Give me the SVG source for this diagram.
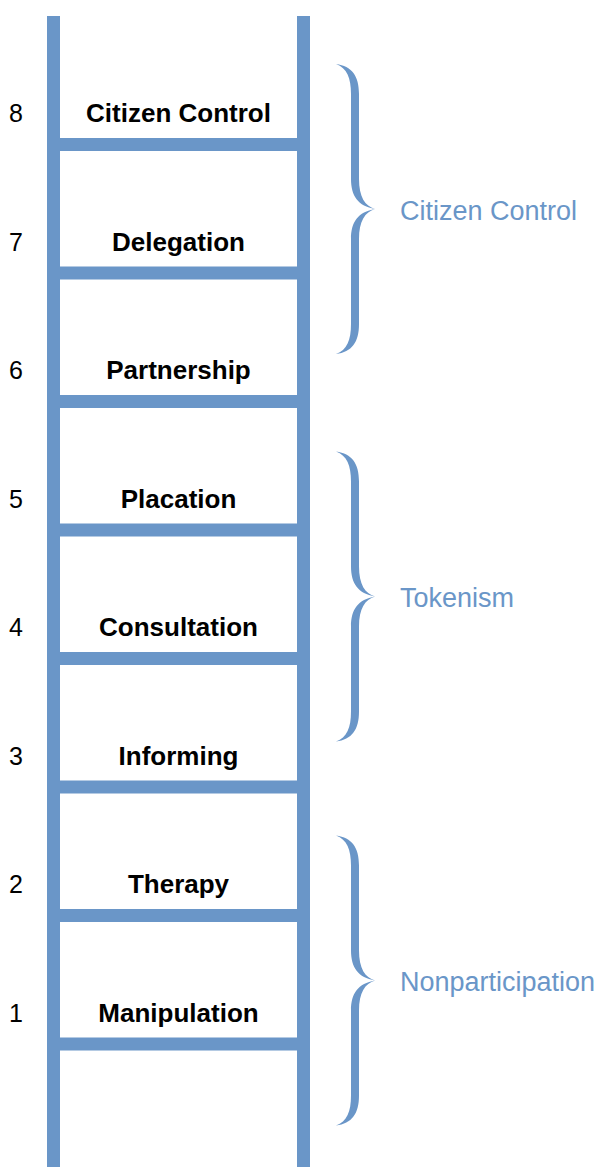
<svg xmlns="http://www.w3.org/2000/svg" width="601" height="1167" viewBox="0 0 601 1167">
<style>
.bar{fill:#6a96c8}
.lbl{font-family:"Liberation Sans",Arial,sans-serif;font-weight:bold;font-size:26px;fill:#000;text-anchor:middle}
.num{font-family:"Liberation Sans",Arial,sans-serif;font-size:25px;fill:#000;text-anchor:middle}
.grp{font-family:"Liberation Sans",Arial,sans-serif;font-size:27px;fill:#6a96c8}
.brace{fill:#6a96c8}
</style>
<defs>
<path id="br" d="M0,0 C16,2 23,12 23,30 L23,115 C23,133 29,142 39,145 C29,148 23,157 23,175 L23,260 C23,278 16,288 0,290 C11,286 15,276 15,260 L15,175 C15,158 22,148 39,145 C22,142 15,132 15,115 L15,30 C15,14 11,4 0,0 Z"/>
</defs>
<rect width="601" height="1167" fill="#fff"/>
<g id="rails">
<rect class="bar" x="47" y="16" width="13" height="1151"/>
<rect class="bar" x="297" y="16" width="13" height="1151"/>
</g>
<g id="rung8"><rect class="bar" x="47" y="138" width="263" height="13"/><text class="num" x="16" y="122">8</text><text class="lbl" x="178.5" y="122">Citizen Control</text></g>
<g id="rung7"><rect class="bar" x="47" y="266.5" width="263" height="13"/><text class="num" x="16" y="250.5">7</text><text class="lbl" x="178.5" y="250.5">Delegation</text></g>
<g id="rung6"><rect class="bar" x="47" y="395" width="263" height="13"/><text class="num" x="16" y="379">6</text><text class="lbl" x="178.5" y="379">Partnership</text></g>
<g id="rung5"><rect class="bar" x="47" y="523.5" width="263" height="13"/><text class="num" x="16" y="507.5">5</text><text class="lbl" x="178.5" y="507.5">Placation</text></g>
<g id="rung4"><rect class="bar" x="47" y="652" width="263" height="13"/><text class="num" x="16" y="636">4</text><text class="lbl" x="178.5" y="636">Consultation</text></g>
<g id="rung3"><rect class="bar" x="47" y="780.5" width="263" height="13"/><text class="num" x="16" y="764.5">3</text><text class="lbl" x="178.5" y="764.5">Informing</text></g>
<g id="rung2"><rect class="bar" x="47" y="909" width="263" height="13"/><text class="num" x="16" y="893">2</text><text class="lbl" x="178.5" y="893">Therapy</text></g>
<g id="rung1"><rect class="bar" x="47" y="1037.5" width="263" height="13"/><text class="num" x="16" y="1021.5">1</text><text class="lbl" x="178.5" y="1021.5">Manipulation</text></g>
<g id="group-citizen-control"><use href="#br" class="brace" x="336" y="64"/><text class="grp" x="400" y="220">Citizen Control</text></g>
<g id="group-tokenism"><use href="#br" class="brace" x="336" y="451.5"/><text class="grp" x="400" y="607">Tokenism</text></g>
<g id="group-nonparticipation"><use href="#br" class="brace" x="336" y="835.5"/><text class="grp" x="400" y="991">Nonparticipation</text></g>
<g id="connectors"/>
</svg>
